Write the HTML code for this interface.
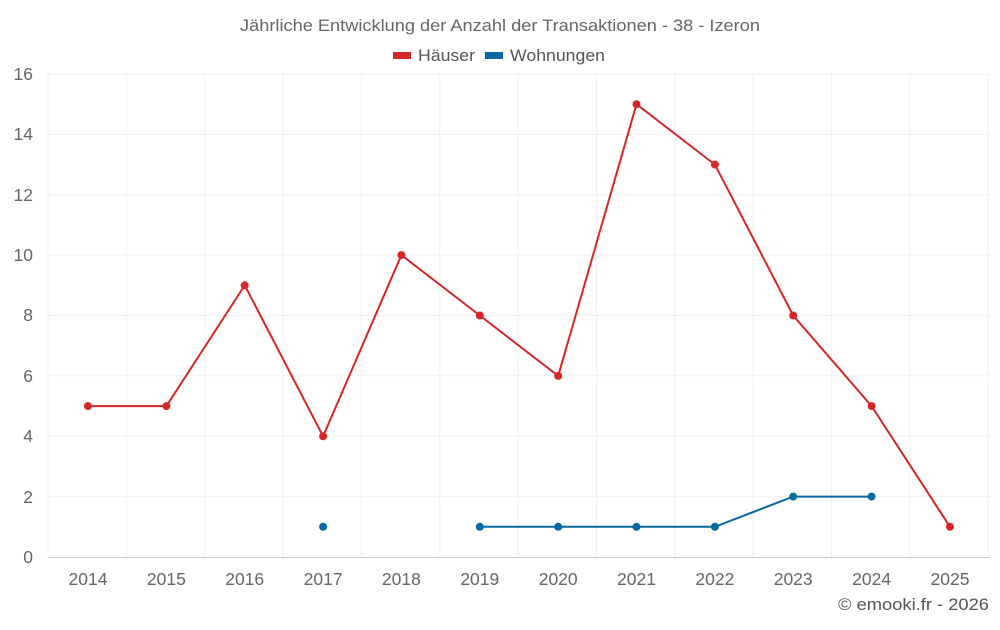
<!DOCTYPE html>
<html><head><meta charset="utf-8"><style>
body{margin:0;background:#fff;}
svg text{font-family:"Liberation Sans",sans-serif;}
</style></head><body>
<svg width="1000" height="625" xmlns="http://www.w3.org/2000/svg">
<rect width="1000" height="625" fill="#fff"/>
<text x="240" y="31" textLength="520" lengthAdjust="spacingAndGlyphs" font-size="17" fill="#666">Jährliche Entwicklung der Anzahl der Transaktionen - 38 - Izeron</text>
<rect x="393" y="52" width="18" height="7" fill="#d62728"/>
<text x="418" y="61" textLength="57" lengthAdjust="spacingAndGlyphs" font-size="17" fill="#555">Häuser</text>
<rect x="485" y="52" width="18" height="7" fill="#0868a0"/>
<text x="510" y="61" textLength="95" lengthAdjust="spacingAndGlyphs" font-size="17" fill="#555">Wohnungen</text>
<g stroke="#f0f0f0" stroke-width="1">
<line x1="48" y1="74" x2="990" y2="74"/>
<line x1="48" y1="134.4" x2="990" y2="134.4"/>
<line x1="48" y1="194.8" x2="990" y2="194.8"/>
<line x1="48" y1="255.1" x2="990" y2="255.1"/>
<line x1="48" y1="315.5" x2="990" y2="315.5"/>
<line x1="48" y1="375.9" x2="990" y2="375.9"/>
<line x1="48" y1="436.3" x2="990" y2="436.3"/>
<line x1="48" y1="496.6" x2="990" y2="496.6"/>
<line x1="48" y1="74" x2="48" y2="557"/>
<line x1="126.4" y1="74" x2="126.4" y2="557"/>
<line x1="204.7" y1="74" x2="204.7" y2="557"/>
<line x1="283.1" y1="74" x2="283.1" y2="557"/>
<line x1="361.4" y1="74" x2="361.4" y2="557"/>
<line x1="439.8" y1="74" x2="439.8" y2="557"/>
<line x1="518.2" y1="74" x2="518.2" y2="557"/>
<line x1="596.5" y1="74" x2="596.5" y2="557"/>
<line x1="674.9" y1="74" x2="674.9" y2="557"/>
<line x1="753.2" y1="74" x2="753.2" y2="557"/>
<line x1="831.6" y1="74" x2="831.6" y2="557"/>
<line x1="910" y1="74" x2="910" y2="557"/>
<line x1="988.3" y1="74" x2="988.3" y2="557"/>
</g>
<line x1="48" y1="557.5" x2="990" y2="557.5" stroke="#ccc"/>
<g font-size="17.5" fill="#666" text-anchor="end">
<text x="33" y="563">0</text><text x="33" y="503">2</text><text x="33" y="442">4</text><text x="33" y="382">6</text><text x="33" y="321">8</text><text x="33" y="261">10</text><text x="33" y="201">12</text><text x="33" y="140">14</text><text x="33" y="80">16</text>
</g>
<g font-size="17.5" fill="#666" text-anchor="middle">
<text x="88" y="585">2014</text><text x="166.4" y="585">2015</text><text x="244.7" y="585">2016</text><text x="323.1" y="585">2017</text><text x="401.4" y="585">2018</text><text x="479.8" y="585">2019</text><text x="558.2" y="585">2020</text><text x="636.5" y="585">2021</text><text x="714.9" y="585">2022</text><text x="793.2" y="585">2023</text><text x="871.6" y="585">2024</text><text x="950" y="585">2025</text>
</g>
<polyline fill="none" stroke="#d62728" stroke-width="2" points="88,406.1 166.4,406.1 244.7,285.3 323.1,436.3 401.4,255.1 479.8,315.5 558.2,375.9 636.5,104.2 714.9,164.6 793.2,315.5 871.6,406.1 950,526.8"/>
<g fill="#d62728">
<circle cx="88" cy="406.1" r="4"/><circle cx="166.4" cy="406.1" r="4"/><circle cx="244.7" cy="285.3" r="4"/><circle cx="323.1" cy="436.3" r="4"/><circle cx="401.4" cy="255.1" r="4"/><circle cx="479.8" cy="315.5" r="4"/><circle cx="558.2" cy="375.9" r="4"/><circle cx="636.5" cy="104.2" r="4"/><circle cx="714.9" cy="164.6" r="4"/><circle cx="793.2" cy="315.5" r="4"/><circle cx="871.6" cy="406.1" r="4"/><circle cx="950" cy="526.8" r="4"/>
</g>
<polyline fill="none" stroke="#0868a0" stroke-width="2" points="479.8,526.8 558.2,526.8 636.5,526.8 714.9,526.8 793.2,496.6 871.6,496.6"/>
<g fill="#0868a0">
<circle cx="323.1" cy="526.8" r="4"/><circle cx="479.8" cy="526.8" r="4"/><circle cx="558.2" cy="526.8" r="4"/><circle cx="636.5" cy="526.8" r="4"/><circle cx="714.9" cy="526.8" r="4"/><circle cx="793.2" cy="496.6" r="4"/><circle cx="871.6" cy="496.6" r="4"/>
</g>
<text x="838" y="610" textLength="151" lengthAdjust="spacingAndGlyphs" font-size="17" fill="#555">© emooki.fr - 2026</text>
</svg>
</body></html>
